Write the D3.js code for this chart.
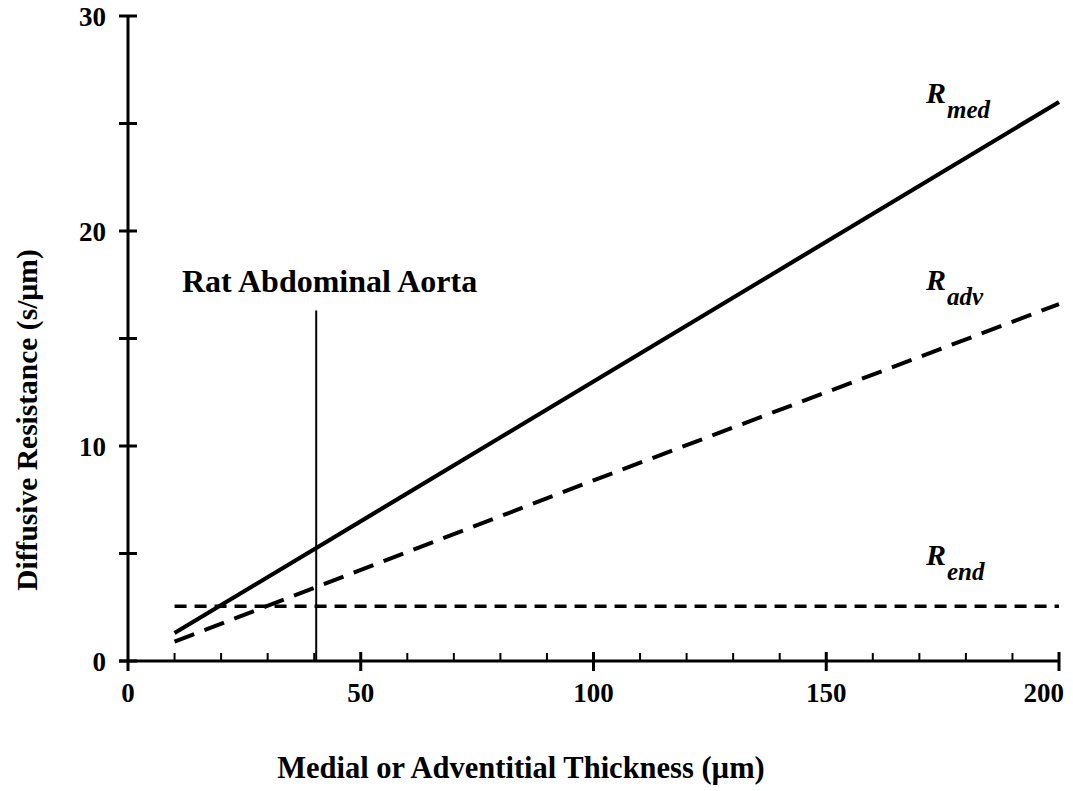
<!DOCTYPE html>
<html>
<head>
<meta charset="utf-8">
<script src="https://cdn.jsdelivr.net/npm/d3@7"></script>
<style>
  html, body { margin: 0; padding: 0; background: #fff; }
  svg text { font-family: "Liberation Serif", "Times New Roman", serif; font-weight: bold; fill: #000; }
</style>
</head>
<body>
<svg id="chart" width="1073" height="791"></svg>
<script>
// Wall thickness (µm) and diffusive resistance of each layer (s/µm)
const thickness = [10, 40, 100, 150, 200];
const rMed = [1.3, 5.2, 13.0, 19.5, 26.0];
const rAdv = [0.9, 3.4, 8.4, 12.5, 16.6];
const rEnd = [2.55, 2.55, 2.55, 2.55, 2.55];

const xMajorTicks = [0, 50, 100, 150, 200];
const xMinorTicks = [10, 20, 30, 40, 60, 70, 80, 90, 110, 120, 130, 140, 160, 170, 180, 190];
const yMajorTicks = [0, 10, 20, 30];
const yMinorTicks = [5, 15, 25];

const aortaThickness = 40;
const aortaMarkerTop = 16.3;

const svg = d3.select("#chart");
const x = d3.scaleLinear().domain([0, 200]).range([128, 1059]);
const y = d3.scaleLinear().domain([0, 30]).range([661, 16]);

// Y axis: all ticks cross the axis line
const yAxis = svg.append("g").attr("transform", `translate(${x(0)},0)`);
yAxis.append("line").attr("x1", 0).attr("x2", 0).attr("y1", y(0)).attr("y2", y(30))
  .attr("stroke", "#000").attr("stroke-width", 3);
yAxis.selectAll("line.tick").data(yMajorTicks.concat(yMinorTicks)).join("line")
  .attr("class", "tick")
  .attr("x1", -9).attr("x2", 9)
  .attr("y1", d => y(d)).attr("y2", d => y(d))
  .attr("stroke", "#000").attr("stroke-width", 3);
yAxis.selectAll("text").data(yMajorTicks).join("text")
  .attr("x", -22).attr("y", d => y(d)).attr("dy", "0.36em")
  .attr("text-anchor", "end").attr("font-size", 27)
  .text(d => d);

// X axis: major ticks cross, minor ticks point up
const xAxis = svg.append("g").attr("transform", `translate(0,${y(0)})`);
xAxis.append("line").attr("x1", x(0) - 9).attr("x2", x(200)).attr("y1", 0).attr("y2", 0)
  .attr("stroke", "#000").attr("stroke-width", 3);
xAxis.selectAll("line.major").data(xMajorTicks).join("line")
  .attr("class", "major")
  .attr("x1", d => x(d)).attr("x2", d => x(d))
  .attr("y1", d => d === 0 ? 0 : -9).attr("y2", 10)
  .attr("stroke", "#000").attr("stroke-width", 3);
xAxis.selectAll("line.minor").data(xMinorTicks).join("line")
  .attr("class", "minor")
  .attr("x1", d => x(d)).attr("x2", d => x(d))
  .attr("y1", -8).attr("y2", 0)
  .attr("stroke", "#000").attr("stroke-width", 2);
xAxis.selectAll("text").data(xMajorTicks).join("text")
  .attr("x", d => d === 200 ? x(d) + 5 : x(d))
  .attr("y", 41)
  .attr("text-anchor", d => d === 200 ? "end" : "middle")
  .attr("font-size", 27)
  .text(d => d);

// Axis titles
svg.append("text")
  .attr("x", 521).attr("y", 778)
  .attr("text-anchor", "middle").attr("font-size", 30.5)
  .text("Medial or Adventitial Thickness (\u00b5m)");
svg.append("text")
  .attr("transform", "translate(37,420) rotate(-90)")
  .attr("text-anchor", "middle").attr("font-size", 29.5)
  .text("Diffusive Resistance (s/\u00b5m)");

// Resistance curves
const line = d3.line().x(d => x(d[0])).y(d => y(d[1]));
const series = [
  { values: rMed, width: 4.2, dash: null },
  { values: rAdv, width: 4, dash: "21,11" },
  { values: rEnd, width: 3.4, dash: "12,8" }
];
series.forEach(s => {
  svg.append("path")
    .datum(thickness.map((t, i) => [t, s.values[i]]))
    .attr("d", line)
    .attr("fill", "none")
    .attr("stroke", "#000")
    .attr("stroke-width", s.width)
    .attr("stroke-dasharray", s.dash);
});

// Rat abdominal aorta marker
svg.append("line")
  .attr("x1", x(aortaThickness) + 2).attr("x2", x(aortaThickness) + 2)
  .attr("y1", y(0)).attr("y2", y(aortaMarkerTop))
  .attr("stroke", "#000").attr("stroke-width", 2);
svg.append("text")
  .attr("x", 182).attr("y", 292)
  .attr("font-size", 32)
  .text("Rat Abdominal Aorta");

// Curve labels
const labels = [
  { sub: "med", x: 926, y: 103 },
  { sub: "adv", x: 926, y: 290 },
  { sub: "end", x: 926, y: 565 }
];
labels.forEach(l => {
  const t = svg.append("text")
    .attr("x", l.x).attr("y", l.y)
    .attr("font-style", "italic").attr("font-size", 30);
  t.append("tspan").text("R");
  t.append("tspan").attr("dy", 15).attr("dx", 1).attr("font-size", 25).text(l.sub);
});
</script>
</body>
</html>
